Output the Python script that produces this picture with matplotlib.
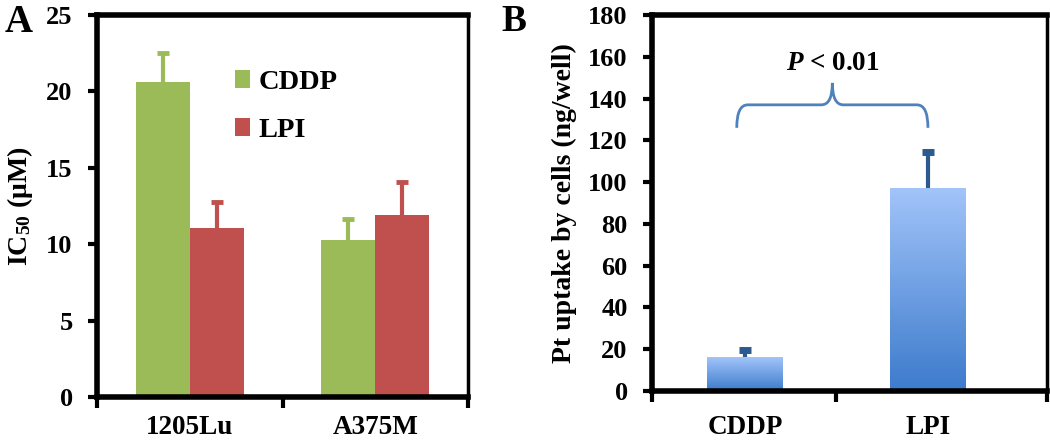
import matplotlib
matplotlib.use("Agg")
import matplotlib.pyplot as plt
import numpy as np
from matplotlib.path import Path
from matplotlib.patches import PathPatch
from matplotlib.colors import LinearSegmentedColormap

plt.rcParams['font.family'] = ['Liberation Serif', 'DejaVu Serif']
plt.rcParams['font.weight'] = 'bold'
plt.rcParams['mathtext.fontset'] = 'custom'
plt.rcParams['mathtext.rm'] = 'Liberation Serif:bold'
plt.rcParams['mathtext.it'] = 'Liberation Serif:bold:italic'
plt.rcParams['mathtext.bf'] = 'Liberation Serif:bold'

# ---- Panel A data ----
cell_lines = ['1205Lu', 'A375M']
series_a = ['CDDP', 'LPI']
ic50_cddp = [20.6, 10.25]
ic50_cddp_err = [1.9, 1.4]
ic50_lpi = [11.05, 11.9]
ic50_lpi_err = [1.7, 2.2]
a_yticks = [0, 5, 10, 15, 20, 25]

# ---- Panel B data ----
formulations = ['CDDP', 'LPI']
pt_uptake = [16.0, 97.0]
pt_uptake_err = [3.6, 17.6]
b_yticks = [0, 20, 40, 60, 80, 100, 120, 140, 160, 180]
p_text = '$P$ < 0.01'

green = '#9bbb59'
red = '#c0504d'
blue_line = '#4f81bd'
err_blue = '#2c5a8f'

fig = plt.figure(figsize=(10.5, 4.42), dpi=100)

TICK_FS = 19
LAB_FS = 19.5


def style_axes(ax, xpad=17):
    for s in ['left', 'bottom', 'top']:
        ax.spines[s].set_linewidth(4)
    ax.spines['right'].set_linewidth(2.5)
    ax.tick_params(axis='y', which='major', direction='out', length=6.5, width=3,
                   labelsize=TICK_FS, pad=11)
    ax.tick_params(axis='x', which='major', direction='out', length=8, width=3,
                   labelbottom=False)
    ax.tick_params(axis='x', which='minor', length=0, labelsize=LAB_FS, pad=xpad)
    for lab in ax.get_yticklabels():
        lab.set_fontweight('bold')


def upper_errorbar(ax, xs, ys, errs, color, capthick, capsize):
    cont = ax.errorbar(xs, ys, yerr=[np.zeros(len(xs)), errs], fmt='none',
                       ecolor=color, elinewidth=3, capsize=capsize,
                       capthick=capthick, zorder=1)
    caps = cont[1]
    if len(caps) == 2:
        caps[0].remove()  # drop lower caps (zero-length lower error)


# ---------------- Panel A ----------------
axA = fig.add_axes([0.0924, 0.1018, 0.3533, 0.8642])
x = np.arange(len(cell_lines))
w = 0.29
axA.bar(x - w / 2, ic50_cddp, w, color=green, label=series_a[0], zorder=2)
axA.bar(x + w / 2, ic50_lpi, w, color=red, label=series_a[1], zorder=2)
upper_errorbar(axA, x - w / 2, ic50_cddp, ic50_cddp_err, green, 3.5, 4)
upper_errorbar(axA, x + w / 2, ic50_lpi, ic50_lpi_err, red, 3.5, 4)
axA.set_xlim(-0.5, 1.5)
axA.set_ylim(0, 25)
axA.set_yticks(a_yticks)
axA.set_xticks([-0.5, 0.5, 1.5])
axA.set_xticks(x, minor=True)
axA.set_xticklabels(cell_lines, minor=True, fontweight='bold')
style_axes(axA, xpad=13)
axA.set_ylabel('IC$_{50}$ (μM)', fontsize=LAB_FS + 0.5, fontweight='bold', labelpad=8)
axA.legend(loc='upper left', bbox_to_anchor=(0.34, 0.885), frameon=False,
           prop={'size': 20.5, 'weight': 'bold'}, handlelength=0.55, handleheight=0.6,
           handletextpad=0.3, labelspacing=0.8, borderaxespad=0)
fig.text(0.004, 0.99, 'A', fontsize=28, fontweight='bold', va='top', ha='left')

# ---------------- Panel B ----------------
axB = fig.add_axes([0.621, 0.1154, 0.376, 0.8506])
xb = np.arange(len(formulations))
wb = 0.41
bars = axB.bar(xb, pt_uptake, wb, color='none', edgecolor='none', zorder=2)
cmap = LinearSegmentedColormap.from_list('bg', ['#3c7bcc', '#a2c4f9'])
grad = np.linspace(0, 1, 256).reshape(-1, 1)
for b in bars:
    x0, y0 = b.get_x(), b.get_y()
    axB.imshow(grad, extent=[x0, x0 + b.get_width(), y0, y0 + b.get_height()],
               origin='lower', aspect='auto', cmap=cmap, zorder=2)
upper_errorbar(axB, xb, pt_uptake, pt_uptake_err, err_blue, 5, 4)
axB.set_xlim(-0.508, 1.65)
axB.set_ylim(0, 180)
axB.set_yticks(b_yticks)
axB.set_xticks([-0.508, 0.5, 1.65])
axB.set_xticks(xb, minor=True)
axB.set_xticklabels(formulations, minor=True, fontweight='bold')
style_axes(axB, xpad=17)
axB.set_ylabel('Pt uptake by cells (ng/well)', fontsize=LAB_FS + 0.5, fontweight='bold',
               labelpad=8)
fig.text(0.478, 0.99, 'B', fontsize=27, fontweight='bold', va='top', ha='left')

# brace
xl, xr = xb[0] - 0.045, xb[1]
xm = (xl + xr) / 2
yb, ye, yp = 137, 126, 147.5
dx = 0.06
verts = [(xl, ye), (xl, yb), (xl + dx, yb),
         (xm - dx, yb),
         (xm, yb), (xm, yp),
         (xm, yb), (xm + dx, yb),
         (xr - dx, yb),
         (xr, yb), (xr, ye)]
codes = [Path.MOVETO, Path.CURVE3, Path.CURVE3,
         Path.LINETO,
         Path.CURVE3, Path.CURVE3,
         Path.CURVE3, Path.CURVE3,
         Path.LINETO,
         Path.CURVE3, Path.CURVE3]
axB.add_patch(PathPatch(Path(verts, codes), facecolor='none', edgecolor=blue_line, lw=2, zorder=3))
axB.text(xm, 157, p_text, ha='center', va='center', fontsize=19.5, fontweight='bold')

fig.savefig('out.png', dpi=100)
